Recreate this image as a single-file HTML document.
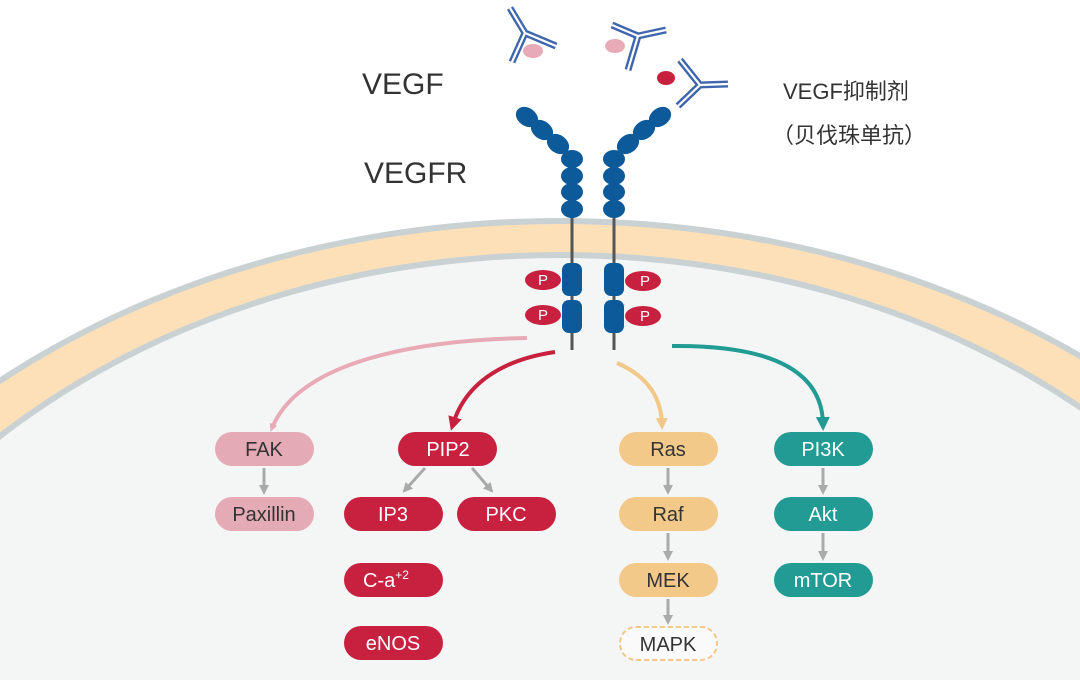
<!DOCTYPE html>
<html><head><meta charset="utf-8"><style>
html,body{margin:0;padding:0;background:#fff;width:1080px;height:680px;overflow:hidden;}
svg{display:block;font-family:"Liberation Sans","Noto Sans CJK SC",sans-serif;overflow:hidden;}
</style></head><body>
<svg width="1080" height="680" viewBox="0 0 1080 680" xmlns="http://www.w3.org/2000/svg">
<defs>
<clipPath id="cp"><rect width="1080" height="680"/></clipPath>
<marker id="aP" markerWidth="8" markerHeight="8" refX="4" refY="4" orient="auto" markerUnits="userSpaceOnUse" viewBox="0 0 8 8"><path d="M0,0 L8,4 L0,8z" fill="#e8aab6"/></marker>
<marker id="aR" markerWidth="14" markerHeight="14" refX="7" refY="7" orient="auto" markerUnits="userSpaceOnUse" viewBox="0 0 14 14"><path d="M0,0 L14,7 L0,14z" fill="#c8213f"/></marker>
<marker id="aO" markerWidth="12" markerHeight="12" refX="6" refY="6" orient="auto" markerUnits="userSpaceOnUse" viewBox="0 0 12 12"><path d="M0,0 L12,6 L0,12z" fill="#f1c78a"/></marker>
<marker id="aT" markerWidth="14" markerHeight="14" refX="7" refY="7" orient="auto" markerUnits="userSpaceOnUse" viewBox="0 0 14 14"><path d="M0,0 L14,7 L0,14z" fill="#239b95"/></marker>
<marker id="aG" markerWidth="10" markerHeight="10" refX="5" refY="5" orient="auto" markerUnits="userSpaceOnUse" viewBox="0 0 10 10"><path d="M0,0 L10,5 L0,10z" fill="#aaaaaa"/></marker>
</defs>
<g clip-path="url(#cp)">
<rect width="1080" height="680" fill="#fff"/>
<ellipse cx="560" cy="900" rx="872" ry="682" fill="#c9d1d3"/>
<ellipse cx="560" cy="900" rx="866" ry="676" fill="#fde0b8"/>
<ellipse cx="560" cy="900" rx="809" ry="648" fill="#c9d1d3"/>
<ellipse cx="560" cy="900" rx="803" ry="642" fill="#f4f6f6"/>
</g>

<g stroke-linecap="butt" fill="none">
<g stroke="#3f66ad" stroke-width="7">
<path d="M510,8 L525,33 L556,46 M525,33 L512,62"/>
<path d="M612,25 L638,36 L666,30 M638,36 L628,70"/>
<path d="M680,60 L700,85 L728,84 M700,85 L678,106"/>
</g>
<g stroke="#fff" stroke-width="2.2">
<path d="M510,8 L525,33 L556,46 M525,33 L512,62"/>
<path d="M612,25 L638,36 L666,30 M638,36 L628,70"/>
<path d="M680,60 L700,85 L728,84 M700,85 L678,106"/>
</g>
</g>
<ellipse cx="533" cy="51" rx="10" ry="7" fill="#e8aab6"/>
<ellipse cx="615" cy="46" rx="10" ry="7" fill="#e8aab6"/>
<ellipse cx="666" cy="78" rx="9" ry="7" fill="#c8213f"/>

<g stroke="#555" stroke-width="3"><line x1="572" y1="205" x2="572" y2="350"/><line x1="614" y1="205" x2="614" y2="350"/></g>
<g fill="#0d5a9a">
<ellipse cx="527" cy="117" rx="12" ry="9" transform="rotate(35 527 117)"/>
<ellipse cx="542" cy="130" rx="12" ry="9" transform="rotate(35 542 130)"/>
<ellipse cx="558" cy="144" rx="12" ry="9" transform="rotate(35 558 144)"/>
<ellipse cx="572" cy="159" rx="11" ry="9"/><ellipse cx="572" cy="176" rx="11" ry="9"/>
<ellipse cx="572" cy="192" rx="11" ry="9"/><ellipse cx="572" cy="209" rx="11" ry="9"/>
<ellipse cx="660" cy="117" rx="12" ry="9" transform="rotate(-35 660 117)"/>
<ellipse cx="644" cy="130" rx="12" ry="9" transform="rotate(-35 644 130)"/>
<ellipse cx="628" cy="144" rx="12" ry="9" transform="rotate(-35 628 144)"/>
<ellipse cx="614" cy="159" rx="11" ry="9"/><ellipse cx="614" cy="176" rx="11" ry="9"/>
<ellipse cx="614" cy="192" rx="11" ry="9"/><ellipse cx="614" cy="209" rx="11" ry="9"/>
<rect x="562" y="263" width="20" height="33" rx="7"/><rect x="562" y="300" width="20" height="33" rx="7"/>
<rect x="604" y="263" width="20" height="33" rx="7"/><rect x="604" y="300" width="20" height="33" rx="7"/>
</g>
<g fill="#c8213f"><ellipse cx="543" cy="280" rx="18" ry="10"/><ellipse cx="543" cy="315" rx="18" ry="10"/><ellipse cx="643" cy="281" rx="18" ry="10"/><ellipse cx="643" cy="316" rx="18" ry="10"/></g>
<g fill="#fff" font-size="15" text-anchor="middle"><text x="543" y="285">P</text><text x="543" y="320">P</text><text x="645" y="286">P</text><text x="645" y="321">P</text></g>

<text x="362" y="94" font-size="30" fill="#333">VEGF</text>
<text x="364" y="183" font-size="30" fill="#333">VEGFR</text>
<text x="783" y="99" font-size="22" fill="#333">VEGF抑制剂</text>
<text x="772" y="143" font-size="22" fill="#333">（贝伐珠单抗）</text>

<path d="M527,338 C420,340 300,360 272,428" fill="none" stroke="#e8aab6" stroke-width="4" marker-end="url(#aP)"/>
<path d="M555,352 C500,360 465,385 453,424" fill="none" stroke="#c8213f" stroke-width="4" marker-end="url(#aR)"/>
<path d="M617,363 C645,375 661,395 662,424" fill="none" stroke="#f1c78a" stroke-width="4" marker-end="url(#aO)"/>
<path d="M672,346 C770,345 822,370 823,424" fill="none" stroke="#239b95" stroke-width="4" marker-end="url(#aT)"/>

<g stroke="#aaaaaa" stroke-width="3" marker-end="url(#aG)">
<line x1="264" y1="468" x2="264" y2="490"/>
<line x1="425" y1="468" x2="406" y2="489"/>
<line x1="472" y1="468" x2="490" y2="489"/>
<line x1="668" y1="468" x2="668" y2="490"/>
<line x1="668" y1="533" x2="668" y2="556"/>
<line x1="668" y1="599" x2="668" y2="620"/>
<line x1="823" y1="468" x2="823" y2="490"/>
<line x1="823" y1="533" x2="823" y2="556"/>
</g>

<g>
<rect x="215" y="432" width="99" height="34" rx="17" fill="#e4aab5"/>
<rect x="215" y="497" width="99" height="34" rx="17" fill="#e4aab5"/>
<rect x="398" y="432" width="99" height="34" rx="17" fill="#c8213f"/>
<rect x="344" y="497" width="99" height="34" rx="17" fill="#c8213f"/>
<rect x="457" y="497" width="99" height="34" rx="17" fill="#c8213f"/>
<rect x="344" y="563" width="99" height="34" rx="17" fill="#c8213f"/>
<rect x="344" y="626" width="99" height="34" rx="17" fill="#c8213f"/>
<rect x="619" y="432" width="99" height="34" rx="17" fill="#f3c98a"/>
<rect x="619" y="497" width="99" height="34" rx="17" fill="#f3c98a"/>
<rect x="619" y="563" width="99" height="34" rx="17" fill="#f3c98a"/>
<rect x="620" y="627" width="97" height="33" rx="16" fill="#fafafa" stroke="#f1c78a" stroke-width="2" stroke-dasharray="5,3"/>
<rect x="774" y="432" width="99" height="34" rx="17" fill="#239b95"/>
<rect x="774" y="497" width="99" height="34" rx="17" fill="#239b95"/>
<rect x="774" y="563" width="99" height="34" rx="17" fill="#239b95"/>
</g>
<g font-size="20" text-anchor="middle">
<text x="264" y="456" fill="#333">FAK</text>
<text x="264" y="521" fill="#333">Paxillin</text>
<text x="448" y="456" fill="#fff">PIP2</text>
<text x="393" y="521" fill="#fff">IP3</text>
<text x="506" y="521" fill="#fff">PKC</text>
<text x="386" y="587" fill="#fff">C-a<tspan font-size="12" dy="-8">+2</tspan></text>
<text x="393" y="650" fill="#fff">eNOS</text>
<text x="668" y="456" fill="#333">Ras</text>
<text x="668" y="521" fill="#333">Raf</text>
<text x="668" y="587" fill="#333">MEK</text>
<text x="668" y="651" fill="#333">MAPK</text>
<text x="823" y="456" fill="#fff">PI3K</text>
<text x="823" y="521" fill="#fff">Akt</text>
<text x="823" y="587" fill="#fff">mTOR</text>
</g>
</svg>
</body></html>
